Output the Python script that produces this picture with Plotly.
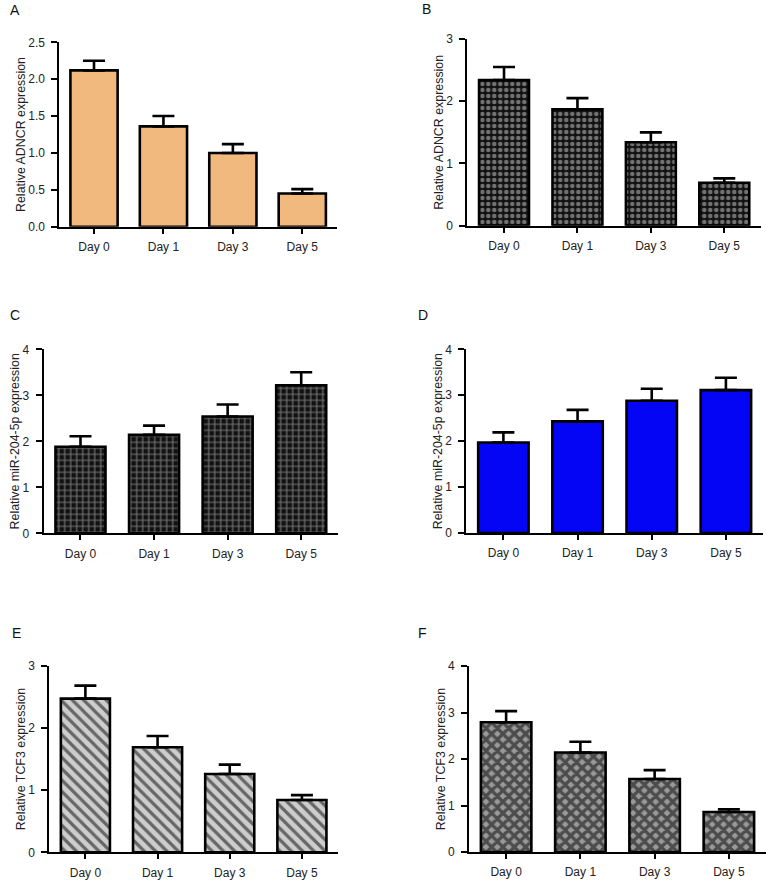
import plotly.graph_objects as go

W, H = 766, 887

categories = ["Day 0", "Day 1", "Day 3", "Day 5"]

a_vals = [2.12, 1.36, 1.00, 0.45]
a_err = [0.13, 0.14, 0.12, 0.06]
b_vals = [2.34, 1.87, 1.34, 0.69]
b_err = [0.21, 0.18, 0.16, 0.07]
c_vals = [1.88, 2.14, 2.54, 3.22]
c_err = [0.23, 0.20, 0.26, 0.28]
d_vals = [1.97, 2.43, 2.88, 3.11]
d_err = [0.22, 0.25, 0.26, 0.27]
e_vals = [2.47, 1.69, 1.26, 0.84]
e_err = [0.21, 0.18, 0.15, 0.08]
f_vals = [2.79, 2.14, 1.57, 0.86]
f_err = [0.24, 0.23, 0.19, 0.06]

panel_letters = ["A", "B", "C", "D", "E", "F"]
y_titles = ["Relative ADNCR expression", "Relative ADNCR expression",
            "Relative miR-204-5p expression", "Relative miR-204-5p expression",
            "Relative TCF3 expression", "Relative TCF3 expression"]
y_max = [2.5, 3, 4, 4, 3, 4]
y_dtick = [0.5, 1, 1, 1, 1, 1]
y_fmt = [".1f", "d", "d", "d", "d", "d"]

values = [a_vals, b_vals, c_vals, d_vals, e_vals, f_vals]
errors = [a_err, b_err, c_err, d_err, e_err, f_err]

# pixel boxes: (x0, x1, ytop, ybottom)
boxes = [
    (59.3, 337.0, 42.3, 226.7),
    (467.3, 761.0, 39.0, 225.7),
    (43.7, 338.0, 349.3, 533.3),
    (466.3, 763.0, 349.3, 533.0),
    (49.3, 338.0, 665.7, 852.3),
    (469.0, 766.0, 666.0, 852.0),
]
letter_pos = [(8, 10), (420, 9), (8, 315), (416, 315), (10, 633), (416, 633)]

patterns = [
    dict(color="#F2B97E", pattern=dict(shape="")),
    dict(color="#111111", pattern=dict(shape=".", fgcolor="#d4d4d4", bgcolor="#111111",
                                       size=6, solidity=0.45, fillmode="overlay")),
    dict(color="#000000", pattern=dict(shape="+", fgcolor="#d8d8d8", bgcolor="#111111",
                                       size=6, solidity=0.35, fillmode="overlay")),
    dict(color="#0505F5", pattern=dict(shape="")),
    dict(color="#cdcdcd", pattern=dict(shape="\\", fgcolor="#000000", bgcolor="#cdcdcd",
                                       size=8, solidity=0.4, fillmode="overlay")),
    dict(color="#999999", pattern=dict(shape="x", fgcolor="#000000", bgcolor="#999999",
                                       size=8, solidity=0.65, fillmode="overlay")),
]

FONT = "Liberation Sans, Arial, Helvetica, sans-serif"
TXT = "#222222"
fig = go.Figure()
layout = dict(
    width=W, height=H, margin=dict(l=0, r=0, t=0, b=0),
    paper_bgcolor="white", plot_bgcolor="white", showlegend=False,
    font=dict(family=FONT, size=12, color=TXT),
    annotations=[],
)

for i in range(6):
    n = "" if i == 0 else str(i + 1)
    x0, x1, yt, yb = boxes[i]
    m = patterns[i]
    fig.add_trace(go.Bar(
        x=categories, y=values[i], width=0.68,
        xaxis="x" + n, yaxis="y" + n,
        marker=dict(color=m["color"], pattern=m["pattern"],
                    line=dict(color="black", width=2.6)),
        error_y=dict(type="data", symmetric=False, array=errors[i],
                     arrayminus=[0] * 4, color="black", thickness=2.6, width=11),
    ))
    layout["xaxis" + n] = dict(
        domain=[x0 / W, x1 / W], anchor="y" + n,
        range=[-0.5, 3.5], showline=True, linecolor="black", linewidth=2,
        ticks="outside", ticklen=5, tickwidth=2, tickcolor="black",
        showgrid=False, zeroline=False, ticklabelstandoff=3,
        tickfont=dict(size=12, color=TXT), fixedrange=True,
    )
    layout["yaxis" + n] = dict(
        domain=[1 - yb / H, 1 - yt / H], anchor="x" + n,
        range=[0, y_max[i]], dtick=y_dtick[i], tick0=0, tickformat=y_fmt[i],
        showline=True, linecolor="black", linewidth=2,
        ticks="outside", ticklen=6, tickwidth=2, tickcolor="black",
        showgrid=False, zeroline=False, ticklabelstandoff=4,
        tickfont=dict(size=12, color=TXT),
        title=dict(text=y_titles[i], standoff=0, font=dict(size=12.4, color=TXT)),
        automargin=False, fixedrange=True,
    )
    lx, ly = letter_pos[i]
    layout["annotations"].append(dict(
        text=panel_letters[i], x=lx / W, y=1 - ly / H, xref="paper", yref="paper",
        xanchor="left", yanchor="middle", showarrow=False,
        font=dict(size=14, color="#111111", family=FONT),
    ))

fig.update_layout(**layout)
fig.write_html(
    "out.html",
    config={"displayModeBar": False},
    post_script="document.documentElement.style.margin='0';document.body.style.margin='0';"
                "document.body.style.overflow='hidden';",
)
